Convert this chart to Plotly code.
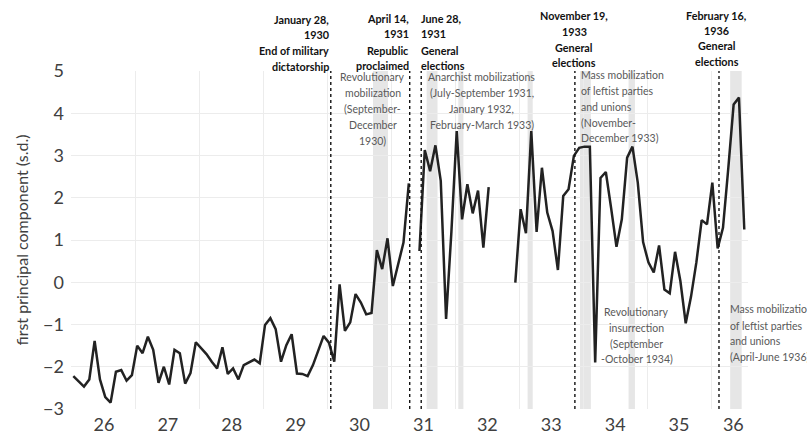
import plotly.graph_objects as go

# ---------------- data ----------------
start_year = 1926
values = [
    -2.22, -2.35, -2.47, -2.30, -1.39, -2.30, -2.72, -2.85, -2.12, -2.08, -2.33, -2.20,   # 1926
    -1.50, -1.68, -1.29, -1.60, -2.38, -2.00, -2.42, -1.60, -1.68, -2.40, -2.15, -1.42,   # 1927
    -1.57, -1.70, -1.88, -2.04, -1.54, -2.17, -2.04, -2.30, -1.96, -1.90, -1.83, -1.92,   # 1928
    -1.01, -0.85, -1.11, -1.88, -1.49, -1.23, -2.16, -2.17, -2.22, -1.96, -1.60, -1.27,   # 1929
    -1.43, -1.88, -0.05, -1.15, -0.95, -0.28, -0.48, -0.76, -0.73, 0.76, 0.31, 1.04,      # 1930
    -0.09, 0.43, 0.94, 2.34, None, 0.74, 3.13, 2.63, 3.24, 2.40, -0.87, 1.20,             # 1931
    3.58, 1.49, 2.32, 1.63, 2.17, 0.82, 2.25, None, None, None, None, -0.01,              # 1932
    1.73, 1.16, 3.58, 1.19, 2.71, 1.65, 1.21, 0.29, 2.04, 2.20, 2.99, 3.18,               # 1933
    3.21, 3.21, -1.90, 2.47, 2.61, 1.75, 0.84, 1.49, 2.95, 3.21, 2.36, 0.95,              # 1934
    0.47, 0.23, 0.87, -0.17, -0.26, 0.72, 0.03, -0.97, -0.34, 0.47, 1.47, 1.37,           # 1935
    2.36, 0.80, 1.29, 2.70, 4.21, 4.37, 1.25,                                             # 1936
]
months = [start_year + (i + 0.25) / 12 for i in range(len(values))]

year_labels = ["26", "27", "28", "29", "30", "31", "32", "33", "34", "35", "36"]
year_label_pos = [1926.5, 1927.5, 1928.5, 1929.5, 1930.5, 1931.5, 1932.5, 1933.5, 1934.5, 1935.5, 1936.35]
year_grid = [1927, 1928, 1929, 1930, 1931, 1932, 1933, 1934, 1935, 1936]

event_dates = [1930.05, 1931.285, 1931.465, 1933.87, 1936.125]
bands = [(1930.71, 1930.945), (1931.55, 1931.72), (1932.045, 1932.125), (1933.13, 1933.21),
         (1933.95, 1934.12), (1934.71, 1934.81), (1936.30, 1936.48)]

# event labels: (x, anchor, [lines], [line y px])
event_labels = [
    (1930.053, "right", ["January 28,", "1930", "End of military", "dictatorship"], [19, 34.5, 50.5, 66]),
    (1931.30, "right", ["April 14,", "1931", "Republic", "proclaimed"], [18.3, 33.8, 50, 65.7]),
    (1931.43, "left", ["June 28,", "1931", "General", "elections"], [18.3, 33.8, 50, 65.7]),
    (1933.86, "center", ["November 19,", "1933", "General", "elections"], [15.7, 31.5, 47.2, 62.7]),
    (1936.093, "center", ["February 16,", "1936", "General", "elections"], [15, 30.5, 46, 61.7]),
]
period_labels = [
    (1930.71, "center", ["Revolutionary", "mobilization", "(September-", "December", "1930)"],
     [77.3, 93.2, 109, 125, 140.7]),
    (1932.41, "center", ["Anarchist mobilizations", "(July-September 1931,", "January 1932,", "February-March 1933)"],
     [76.7, 93.2, 109, 124.5]),
    (1933.93, "left", ["Mass mobilization", "of leftist parties", "and unions", "(November-", "December 1933)"],
     [75, 90.8, 106.7, 122.7, 138.3]),
    (1934.84, "center", ["Revolutionary", "insurrection", "(September", "-October 1934)"],
     [311.7, 327.7, 344, 359.3]),
    (1936.266, "left", ["Mass mobilization", "of leftist parties", "and unions", "(April-June 1936)"],
     [309.3, 325.5, 341, 356.7]),
]

# ---------------- figure ----------------
W, H = 807, 434
PT, PB, PL, PR = 71, 409, 71, 748
FONT = "Lato"

fig = go.Figure()
fig.add_trace(go.Scatter(x=months, y=values, mode="lines",
                         line=dict(color="#222222", width=2.5),
                         connectgaps=False, hoverinfo="skip", showlegend=False))

shapes = []
for a, b in bands:
    shapes.append(dict(type="rect", xref="x", yref="paper", x0=a, x1=b, y0=0, y1=1,
                       fillcolor="#e6e6e6", line=dict(width=0), layer="below"))
for d in event_dates:
    shapes.append(dict(type="line", xref="x", yref="paper", x0=d, x1=d, y0=0, y1=1,
                       line=dict(color="#111111", width=1.4, dash="dot"), layer="above"))

def ypaper(px):
    return (PB - px) / (PB - PT)

annotations = []
for x, anchor, lines, ys in event_labels:
    for t, yy in zip(lines, ys):
        annotations.append(dict(x=x, xref="x", y=ypaper(yy), yref="paper", text="<b>" + t + "</b>",
                                showarrow=False, xanchor=anchor, yanchor="middle", align=anchor,
                                font=dict(family=FONT, size=10.8, color="#111111")))
for x, anchor, lines, ys in period_labels:
    for t, yy in zip(lines, ys):
        annotations.append(dict(x=x, xref="x", y=ypaper(yy), yref="paper", text=t,
                                showarrow=False, xanchor=anchor, yanchor="middle", align=anchor,
                                font=dict(family=FONT, size=10.5, color="#595959")))

x_left = 1926 + (PL - 72) / 63.9
x_right = 1926 + (PR - 72) / 63.9

fig.update_layout(
    width=W, height=H,
    margin=dict(l=PL, r=W - PR, t=PT, b=H - PB, autoexpand=False),
    paper_bgcolor="white", plot_bgcolor="white",
    shapes=shapes, annotations=annotations,
    font=dict(family=FONT, color="#404040"),
    xaxis=dict(range=[x_left, x_right], tickmode="array", tickvals=year_label_pos, ticktext=year_labels,
               showgrid=False, zeroline=False, showline=False, ticks="", automargin=False,
               ticklabelstandoff=3,
               tickfont=dict(size=18, color="#404040"),
               minor=dict(tickmode="array", tickvals=year_grid, showgrid=True,
                          gridcolor="#ececec", gridwidth=1, ticks="")),
    yaxis=dict(range=[-3, 5], dtick=1, tick0=0, showgrid=True, gridcolor="#ececec", gridwidth=1,
               zeroline=False, showline=False, ticks="", ticklabelstandoff=6, automargin=False,
               tickfont=dict(size=18, color="#404040"),
               title=dict(text="first principal component (s.d.)", font=dict(size=16, color="#404040"),
                          standoff=10)),
)

fig.write_html("out.html", config={"displayModeBar": False, "staticPlot": True},
               post_script="document.body.style.margin='0';document.body.style.overflow='hidden';")
